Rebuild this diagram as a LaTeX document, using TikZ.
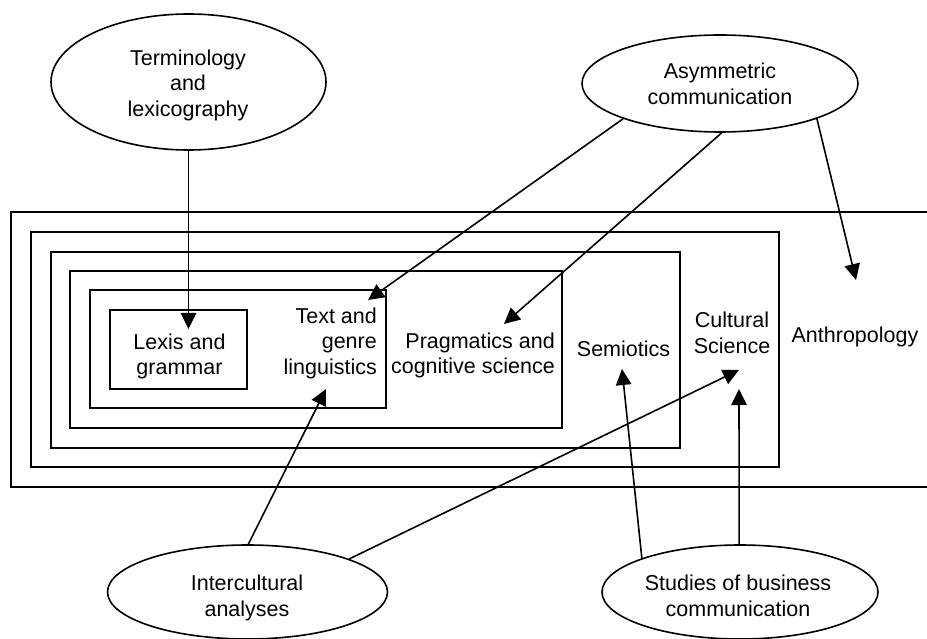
\documentclass[tikz,border=0pt]{standalone}
\usepackage{fontspec}
\setmainfont{Liberation Sans}
\usetikzlibrary{arrows.meta,shapes.geometric}
\begin{document}
\begin{tikzpicture}[x=1pt,y=-1pt,
  lw/.style={line width=1.6pt},
  frame/.style={draw, lw, inner sep=0pt},
  topic/.style={draw, lw, ellipse, inner sep=0pt},
  lbl/.style={font=\fontsize{21.5pt}{25.5pt}\selectfont, inner sep=0pt, align=center},
  arr/.style={lw, -{Triangle[length=16pt,width=15.5pt]}}]

\useasboundingbox (0,0) rectangle (927,639);

% nested fields
\draw[lw] (935,212) -| (11,487) -- (935,487);
\node[frame, minimum width=748pt, minimum height=235pt] (cultbox) at (405,349.5) {};
\node[frame, minimum width=629pt, minimum height=196pt] (semibox) at (365.5,350) {};
\node[frame, minimum width=492pt, minimum height=157pt] (pragbox) at (316,349.5) {};
\node[frame, minimum width=296pt, minimum height=118pt] (textbox) at (238,349) {};
\node[frame, minimum width=137pt, minimum height=79pt] (lexbox) at (178.5,349.5) {};

% field labels
\node[lbl] (lexlbl) at (179.5,356.3) {Lexis and\\grammar};
\node[lbl, align=right, anchor=east] (textlbl) at (377,343) {Text and\\genre\\linguistics};
\node[lbl, align=right, anchor=east] (praglbl) at (555,355.3) {Pragmatics and\\cognitive science};
\node[lbl, anchor=base] (semilbl) at (623.5,356) {Semiotics};
\node[lbl] (cultlbl) at (732,333) {Cultural\\Science};
\node[lbl, anchor=base] (anthlbl) at (855,342) {Anthropology};

% ellipses
\node[topic, minimum width=275pt, minimum height=136pt] (term) at (188.5,82) {};
\node[lbl] (termlbl) at (188,85) {Terminology\\and\\lexicography};
\node[topic, minimum width=276pt, minimum height=97pt] (asym) at (720,83.5) {};
\node[lbl] (asymlbl) at (720,84) {Asymmetric\\communication};
\node[topic, minimum width=280pt, minimum height=94pt] (inter) at (247.5,592) {};
\node[lbl] (interlbl) at (247,598) {Intercultural\\analyses};
\node[topic, minimum width=276pt, minimum height=94pt] (stud) at (740,592) {};
\node[lbl] (studlbl) at (738,596) {Studies of business\\communication};

% arrow tips
\coordinate (tLex) at (188.5,329);
\coordinate (tTextA) at (368,300);
\coordinate (tPrag) at (504,324);
\coordinate (tAnth) at (856,280);
\coordinate (tTextB) at (326,389);
\coordinate (tCultA) at (739,370);
\coordinate (tSemi) at (622,369);
\coordinate (tCultB) at (739,389);

\draw[arr] (term.270) -- (tLex);
\draw[arr] (asym.200) -- (tTextA);
\draw[arr] (asym.272) -- (tPrag);
\draw[arr] (asym.340) -- (tAnth);
\draw[arr] (inter.89) -- (tTextB);
\draw[arr] (inter.18) -- (tCultA);
\draw[arr] (stud.161) -- (tSemi);
\draw[arr] (stud.91) -- (tCultB);
\end{tikzpicture}
\end{document}
